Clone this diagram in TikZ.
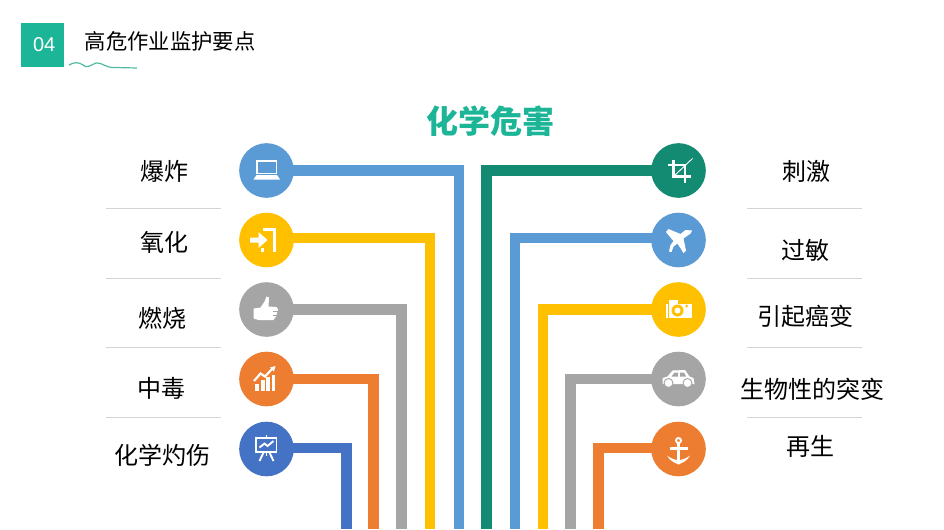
\documentclass[tikz,border=0pt]{standalone}
\usepackage{fontspec}
\setmainfont{Noto Sans CJK SC}
\newfontfamily\arialfont{Liberation Sans}
\usetikzlibrary{calc}

\definecolor{tealhead}{HTML}{1DB597}
\definecolor{tealwave}{HTML}{4FBBA3}
\definecolor{pipegreen}{HTML}{138A72}
\definecolor{pipeblue}{HTML}{5B9BD5}
\definecolor{pipeyellow}{HTML}{FFC000}
\definecolor{pipegray}{HTML}{A5A5A5}
\definecolor{pipeorange}{HTML}{ED7D31}
\definecolor{pipedark}{HTML}{4472C4}
\definecolor{sepgray}{HTML}{D4D4D4}

\tikzset{
    ico/.style={circle, fill=#1, inner sep=0pt, minimum size=41pt},
    pipe/.style={#1, line width=8pt, shorten <=-1pt},
    lab/.style={text=black, font=\fontsize{18}{20}\selectfont, inner sep=0pt},
    sep/.style={sepgray, line width=0.7pt},
    iconline/.style={white, line width=1.4pt}
}

\begin{document}
\begin{tikzpicture}[x=0.75pt, y=-0.75pt]
        \useasboundingbox (0,0) rectangle (944,529);

        % Header
        \node[fill=tealhead, minimum width=32.25pt, minimum height=33pt, inner sep=0pt, text=white,
              font=\arialfont\fontsize{15}{15}\selectfont] (badge) at (42.5,45) {\,04};
        \node[font=\fontsize{16}{18}\selectfont, inner sep=0pt] (heading) at (170,41) {高危作业监护要点};
        \draw[tealwave, line width=0.9pt] (69,65) .. controls (74,62) and (79,62) .. (83,65)
            .. controls (86,69) and (91,65) .. (96,63) .. controls (102,62) and (105,68) .. (115,67.5)
            -- (137,68);
        \node[font=\bfseries\fontsize{24}{26}\selectfont, text=tealhead, inner sep=0pt] (title) at (490,121) {化学危害};

        % Icon circles
        \node[ico=pipeblue] (icolaptop) at (266.5,170.5) {};
        \node[ico=pipeyellow] (icoenter) at (266.5,240) {};
        \node[ico=pipegray] (icothumb) at (266.5,309.5) {};
        \node[ico=pipeorange] (icochart) at (266.5,379) {};
        \node[ico=pipedark] (icoboard) at (266.5,449) {};
        \node[ico=pipegreen] (icocrop) at (678.5,170.5) {};
        \node[ico=pipeblue] (icoplane) at (678.5,240) {};
        \node[ico=pipeyellow] (icocamera) at (678.5,309.5) {};
        \node[ico=pipegray] (icocar) at (678.5,379) {};
        \node[ico=pipeorange] (icoanchor) at (678.5,449) {};

        % Pipe ends at the bottom edge
        \coordinate (endlaptop) at (459,529);
        \coordinate (endenter) at (430,529);
        \coordinate (endthumb) at (401.5,529);
        \coordinate (endchart) at (373.5,529);
        \coordinate (endboard) at (346.5,529);
        \coordinate (endcrop) at (486.5,529);
        \coordinate (endplane) at (515,529);
        \coordinate (endcamera) at (543,529);
        \coordinate (endcar) at (570.5,529);
        \coordinate (endanchor) at (598.5,529);

        % Pipes
        \draw[pipe=pipeblue] (icolaptop.east) -| (endlaptop);
        \draw[pipe=pipeyellow] ([yshift=1.5pt]icoenter.east) -| (endenter);
        \draw[pipe=pipegray] (icothumb.east) -| (endthumb);
        \draw[pipe=pipeorange] (icochart.east) -| (endchart);
        \draw[pipe=pipedark] ([yshift=0.75pt]icoboard.east) -| (endboard);
        \draw[pipe=pipegreen] (icocrop.west) -| (endcrop);
        \draw[pipe=pipeblue] ([yshift=1.5pt]icoplane.west) -| (endplane);
        \draw[pipe=pipeyellow] (icocamera.west) -| (endcamera);
        \draw[pipe=pipegray] (icocar.west) -| (endcar);
        \draw[pipe=pipeorange] ([yshift=0.75pt]icoanchor.west) -| (endanchor);

        % Left labels
        \node[lab] (labbaozha) at (164,171) {爆炸};
        \node[lab] (labyanghua) at (164,242) {氧化};
        \node[lab] (labranshao) at (162,318) {燃烧};
        \node[lab] (labzhongdu) at (161.5,388) {中毒};
        \node[lab] (labzhuoshang) at (162,455) {化学灼伤};

        % Right labels
        \node[lab] (labciji) at (806,171) {刺激};
        \node[lab] (labguomin) at (805,250) {过敏};
        \node[lab] (labaibian) at (805,316) {引起癌变};
        \node[lab] (labtubian) at (812,389) {生物性的突变};
        \node[lab] (labzaisheng) at (810,446) {再生};

        % Separators
        \draw[sep] (106,208) -- (221,208);
        \draw[sep] (106,278) -- (221,278);
        \draw[sep] (106,347.5) -- (221,347.5);
        \draw[sep] (106,417) -- (221,417);
        \draw[sep] (747,208) -- (862,208);
        \draw[sep] (747,278) -- (862,278);
        \draw[sep] (747,347.5) -- (862,347.5);
        \draw[sep] (747,417) -- (862,417);

        % Laptop
        \begin{scope}[shift={(icolaptop.center)}]
            \draw[iconline] (-9.5,-9.5) rectangle (10,3);
            \fill[white] (-10,4.5) -- (10.5,4.5) -- (13.5,9) -- (-13,9) -- cycle;
        \end{scope}

        % Enter
        \begin{scope}[shift={(icoenter.center)}]
            \draw[white, line width=2.4pt] (-4,-10.5) -- (8,-10.5) -- (8,11.5);
            \fill[white] (-16.5,-2.5) -- (-8,-2.5) -- (-8,-8) -- (1,0) -- (-8,8) -- (-8,2.5) -- (-16.5,2.5) -- cycle;
            \fill[white] (-6,7.5) rectangle (-2.5,11.5);
        \end{scope}

        % Thumb
        \begin{scope}[shift={(icothumb.center)}]
            \fill[white] (-13,-1) -- (-6,-2) -- (-2,-8) -- (0,-13) -- (2.5,-12) -- (2,-3)
                -- (10,-2.5) -- (11.5,0) -- (10.5,3.5) -- (9.5,7) -- (7,10.5) -- (-8,10.5) -- (-13,9) -- cycle;
            \draw[pipegray, line width=0.4pt] (6,2) -- (11,2);
            \draw[pipegray, line width=0.4pt] (6,5.5) -- (10,5.5);
        \end{scope}

        % Chart
        \begin{scope}[shift={(icochart.center)}]
            \fill[white] (-11.5,5) rectangle (-8,12);
            \fill[white] (-6,1) rectangle (-2,12);
            \fill[white] (-0.5,-2) rectangle (3,12);
            \fill[white] (5,-4) rectangle (8.5,12);
            \draw[white, line width=1.6pt] (-12.5,2) -- (-6,-5.5) -- (-1.5,-2.5) -- (6,-10.5);
            \fill[white] (9,-13) -- (7.5,-7.5) -- (3.5,-11.5) -- cycle;
        \end{scope}

        % Board
        \begin{scope}[shift={(icoboard.center)}]
            \draw[iconline] (-10.5,-11) rectangle (10,3);
            \draw[iconline] (0,-14) -- (0,-11);
            \draw[iconline] (-7,-1.5) -- (-2,-5.5) -- (1,-3) -- (7,-8);
            \draw[iconline] (-3,3.5) -- (-7,12);
            \draw[iconline] (3,3.5) -- (7,12);
            \draw[iconline] (0,3) -- (0,6.5);
        \end{scope}

        % Crop
        \begin{scope}[shift={(icocrop.center)}]
            \draw[white, line width=2pt] (-5,-10.5) -- (-5,6) -- (12.5,6);
            \draw[white, line width=2pt] (-11,-5.5) -- (6.5,-5.5) -- (6.5,12);
            \draw[white, line width=0.7pt] (-5,6) -- (14,-12);
        \end{scope}

        % Plane
        \begin{scope}[shift={(icoplane.center)}]
            \fill[white] (13.5,-9.5) -- (12,-6.5) -- (5,-1.5) -- (7.5,10.5) -- (5,13) -- (-1,3.5) -- (-5,6.5)
                -- (-7,12) -- (-9.5,11.5) -- (-8,5) -- (-5,1) -- (-6,0) -- (-12.5,-8) -- (-10,-11) -- (2,-6)
                -- (7,-10) -- cycle;
        \end{scope}

        % Camera
        \begin{scope}[shift={(icocamera.center)}]
            \fill[white] (-13,-6) rectangle (13,8);
            \fill[white] (-10,-9.5) rectangle (-1,-6);
            \draw[pipeyellow, line width=0.5pt] (-10.5,-6) -- (-10.5,8);
            \fill[pipeyellow] (-1,1) circle (6);
            \fill[white] (-1,1) circle (3);
            \fill[pipeyellow] (8,-3.5) circle (1.5);
        \end{scope}

        % Car
        \begin{scope}[shift={(icocar.center)}]
            \fill[white] (-16,5) -- (-16,-1) -- (-11,-2.5) -- (-6,-8.5) -- (6.5,-9) -- (11,-2.5) -- (15,-1)
                -- (16,5) -- cycle;
            \fill[pipegray] (-4,-6.5) -- (-0.5,-6.5) -- (-0.5,-2.5) -- (-7,-2.5) -- cycle;
            \fill[pipegray] (1.5,-6.5) -- (5.5,-6.5) -- (7.5,-2.5) -- (1.5,-2.5) -- cycle;
            \fill[white, draw=pipegray, line width=0.7pt] (-10,4) circle (4.5);
            \fill[white, draw=pipegray, line width=0.7pt] (9,4) circle (4.5);
        \end{scope}

        % Anchor
        \begin{scope}[shift={(icoanchor.center)}]
            \draw[iconline] (0,-8.5) circle (2.5);
            \draw[white, line width=1.7pt] (0,-6) -- (0,13);
            \draw[white, line width=1.7pt] (-9,-0.5) -- (9,-0.5);
            \fill[white] (-11.5,6.5) .. controls (-7,10) and (-3,11) .. (0,11)
                .. controls (3,11) and (7,10) .. (11.5,6.5) .. controls (9,12) and (3,14) .. (0,15.5)
                .. controls (-3,14) and (-9,12) .. (-11.5,6.5) -- cycle;
        \end{scope}
    \end{tikzpicture}
\end{document}
